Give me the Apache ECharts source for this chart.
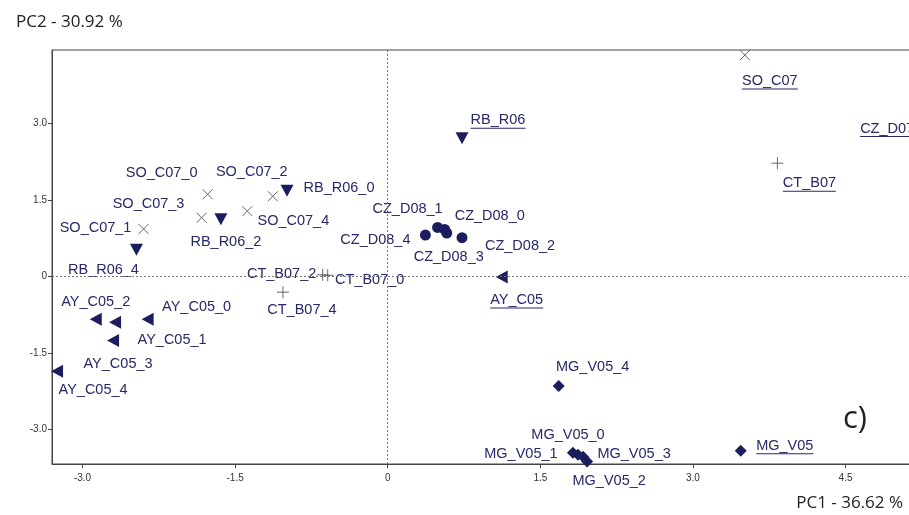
<!DOCTYPE html>
<html>
<head>
<meta charset="utf-8">
<script src="https://cdn.jsdelivr.net/npm/echarts@6/dist/echarts.min.js"></script>
<style>
  html, body { margin: 0; padding: 0; background: #fff; }
  #chart { width: 909px; height: 515px; }
</style>
</head>
<body>
<div id="chart"></div>
<script>
// PCA scores (PC1, PC2)
var soNames = ['SO_C07', 'SO_C07_0', 'SO_C07_1', 'SO_C07_2', 'SO_C07_3', 'SO_C07_4'];
var soX = [3.51, -1.77, -2.40, -1.13, -1.83, -1.38];
var soY = [4.34, 1.61, 0.93, 1.57, 1.15, 1.28];

var rbNames = ['RB_R06', 'RB_R06_0', 'RB_R06_2', 'RB_R06_4'];
var rbX = [0.73, -0.99, -1.64, -2.47];
var rbY = [2.71, 1.68, 1.12, 0.52];

var ctNames = ['CT_B07', 'CT_B07_0', 'CT_B07_2', 'CT_B07_4'];
var ctX = [3.83, -0.59, -0.64, -1.03];
var ctY = [2.22, 0.02, 0.03, -0.31];

var czNames = ['CZ_D07', 'CZ_D08_0', 'CZ_D08_1', 'CZ_D08_2', 'CZ_D08_3', 'CZ_D08_4'];
var czX = [5.40, 0.56, 0.49, 0.73, 0.58, 0.37];
var czY = [2.90, 0.92, 0.96, 0.76, 0.85, 0.81];

var ayNames = ['AY_C05', 'AY_C05_0', 'AY_C05_1', 'AY_C05_2', 'AY_C05_3', 'AY_C05_4'];
var ayX = [1.12, -2.36, -2.68, -2.87, -2.70, -3.25];
var ayY = [-0.01, -0.84, -0.90, -0.84, -1.26, -1.86];

var mgNames = ['MG_V05', 'MG_V05_0', 'MG_V05_1', 'MG_V05_2', 'MG_V05_3', 'MG_V05_4'];
var mgX = [3.47, 1.87, 1.82, 1.96, 1.92, 1.68];
var mgY = [-3.42, -3.50, -3.46, -3.63, -3.54, -2.15];

var xTicks = [-3.0, -1.5, 0, 1.5, 3.0, 4.5];
var yTicks = [-3.0, -1.5, 0, 1.5, 3.0];

// group means get an underlined label
var centroids = ['SO_C07', 'RB_R06', 'CT_B07', 'CZ_D07', 'AY_C05', 'MG_V05'];

// where each label sits, relative to its marker (px)
var labelOffset = {
  SO_C07: [25, 26], SO_C07_0: [-46, -21], SO_C07_1: [-48, -1], SO_C07_2: [-21, -24], SO_C07_3: [-53, -14], SO_C07_4: [46, 10],
  RB_R06: [36, -18], RB_R06_0: [52, -3], RB_R06_2: [5, 23], RB_R06_4: [-33, 20],
  CT_B07: [32, 20], CT_B07_0: [42, 5], CT_B07_2: [-41, -1], CT_B07_4: [19, 18],
  CZ_D07: [-50, 0], CZ_D08_0: [45, -13], CZ_D08_1: [-30, -18], CZ_D08_2: [58, 8], CZ_D08_3: [2, 24], CZ_D08_4: [-50, 5],
  AY_C05: [15, 23], AY_C05_0: [49, -12], AY_C05_1: [57, 18], AY_C05_2: [0, -17], AY_C05_3: [5, 23], AY_C05_4: [36, 19],
  MG_V05: [44, -5], MG_V05_0: [-10, -20], MG_V05_1: [-52, 1], MG_V05_2: [22, 20], MG_V05_3: [51, -3], MG_V05_4: [34, -19]
};

var navy = '#1c1d5e';
var textColor = '#262867';
var labelFont = '"Liberation Sans", Arial, sans-serif';
var labelSize = 14.5;
var titleFont = '"Open Sans", sans-serif';

var measureCtx = document.createElement('canvas').getContext('2d');
measureCtx.font = labelSize + 'px ' + labelFont;
function textWidth(s) {
  return Math.round(measureCtx.measureText(s).width);
}

function makeSeries(names, xs, ys, symbol, size, rotate, itemStyle) {
  var data = [];
  for (var i = 0; i < names.length; i++) {
    var nm = names[i];
    var off = labelOffset[nm] || [0, 0];
    var isC = centroids.indexOf(nm) >= 0;
    var label = {
      show: true,
      position: 'inside',
      align: 'center',
      verticalAlign: 'middle',
      offset: isC ? [off[0], off[1] + 1] : off,
      backgroundColor: '#fff',
      color: textColor,
      fontFamily: labelFont,
      fontSize: labelSize
    };
    if (isC) {
      label.formatter = '{t|' + nm + '}\n{u| }';
      label.rich = {
        t: { color: textColor, fontFamily: labelFont, fontSize: labelSize, lineHeight: 14 },
        u: { width: textWidth(nm), height: 1, fontSize: 1, lineHeight: 2, backgroundColor: textColor }
      };
    } else {
      label.formatter = nm;
    }
    data.push({ name: nm, value: [xs[i], ys[i]], label: label });
  }
  itemStyle.opacity = 1;
  return {
    type: 'scatter',
    clip: false,
    symbol: symbol,
    symbolSize: size,
    symbolRotate: rotate,
    itemStyle: itemStyle,
    emphasis: { disabled: true },
    data: data
  };
}

var tickFmt = function (v) {
  return v === 0 ? '0' : v.toFixed(1);
};

var chart = echarts.init(document.getElementById('chart'));

var series = [
  makeSeries(soNames, soX, soY, 'path://M0,0L10,10M10,0L0,10', 10, 0,
    { color: 'transparent', borderColor: '#666', borderWidth: 1 }),
  makeSeries(rbNames, rbX, rbY, 'triangle', [13, 12], 180, { color: navy }),
  makeSeries(ctNames, ctX, ctY, 'path://M5,0L5,10M0,5L10,5', 12, 0,
    { color: 'transparent', borderColor: '#666', borderWidth: 1 }),
  makeSeries(czNames, czX, czY, 'circle', 11, 0, { color: navy }),
  makeSeries(ayNames, ayX, ayY, 'triangle', [13, 12], 90, { color: navy }),
  makeSeries(mgNames, mgX, mgY, 'diamond', 12, 0, { color: navy })
];

// dotted zero lines
series[0].markLine = {
  silent: true,
  symbol: 'none',
  label: { show: false },
  lineStyle: { color: '#777', type: [2, 2], width: 1 },
  data: [{ xAxis: 0 }, { yAxis: 0 }]
};

chart.setOption({
  animation: false,
  grid: {
    left: 52,
    top: 50,
    width: 877,
    height: 414,
    outerBoundsMode: 'none',
    show: true,
    borderColor: '#444',
    borderWidth: 1
  },
  xAxis: {
    type: 'value',
    min: -3.3,
    max: 5.32,
    splitLine: { show: false },
    axisLine: { onZero: false, lineStyle: { color: '#444' } },
    axisTick: { show: true, length: 4, customValues: xTicks, lineStyle: { color: '#444' } },
    axisLabel: { customValues: xTicks, formatter: tickFmt, color: '#333', fontSize: 10, fontFamily: labelFont, margin: 9 }
  },
  yAxis: {
    type: 'value',
    min: -3.68,
    max: 4.44,
    splitLine: { show: false },
    axisLine: { onZero: false, lineStyle: { color: '#444' } },
    axisTick: { show: true, length: 4, customValues: yTicks, lineStyle: { color: '#444' } },
    axisLabel: { customValues: yTicks, formatter: tickFmt, color: '#333', fontSize: 10, fontFamily: labelFont, margin: 5 }
  },
  graphic: [
    { type: 'text', x: 16, y: 22, style: { text: 'PC2 - 30.92 %', fontSize: 17, fontFamily: titleFont, fill: '#222', verticalAlign: 'middle' } },
    { type: 'text', x: 903, y: 503, style: { text: 'PC1 - 36.62 %', fontSize: 17, fontFamily: titleFont, fill: '#222', align: 'right', verticalAlign: 'middle' } },
    { type: 'text', x: 843, y: 419, style: { text: 'c)', fontSize: 31, fontFamily: titleFont, fill: '#222', verticalAlign: 'middle' } }
  ],
  series: series
});
</script>
</body>
</html>
